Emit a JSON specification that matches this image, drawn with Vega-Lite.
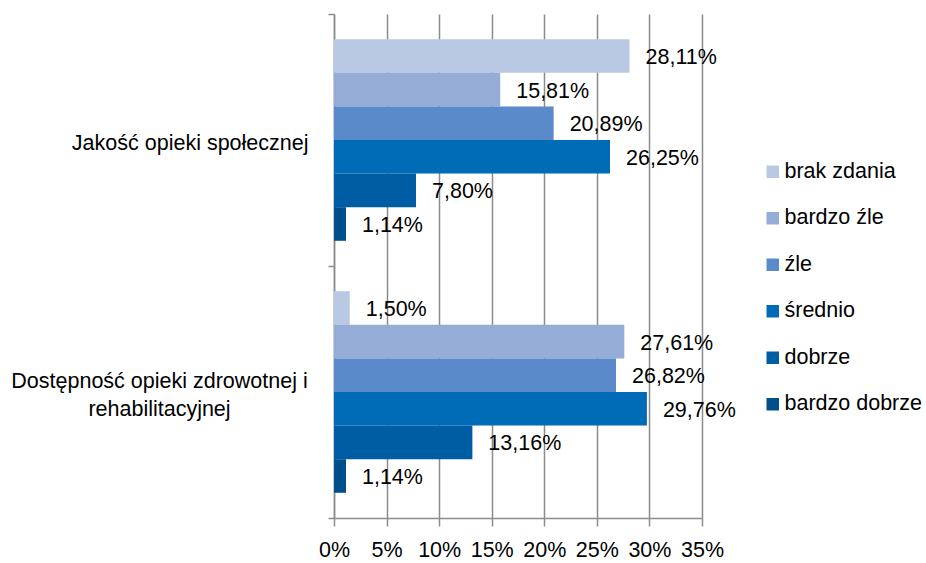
{
  "$schema": "https://vega.github.io/schema/vega-lite/v6.json",
  "width": 368,
  "height": 504,
  "autosize": {"type": "none"},
  "padding": {"left": 334, "top": 14, "right": 224, "bottom": 45},
  "background": "white",
  "config": {
    "view": {"stroke": null},
    "font": "Liberation Sans",
    "locale": {"number": {"decimal": ",", "thousands": " ", "grouping": [3], "currency": ["", " zł"]}}
  },
  "data": {
    "values": [
      {"kategoria": "Jakość opieki społecznej", "ocena": "brak zdania", "wartosc": 0.2811},
      {"kategoria": "Jakość opieki społecznej", "ocena": "bardzo źle", "wartosc": 0.1581},
      {"kategoria": "Jakość opieki społecznej", "ocena": "źle", "wartosc": 0.2089},
      {"kategoria": "Jakość opieki społecznej", "ocena": "średnio", "wartosc": 0.2625},
      {"kategoria": "Jakość opieki społecznej", "ocena": "dobrze", "wartosc": 0.078},
      {"kategoria": "Jakość opieki społecznej", "ocena": "bardzo dobrze", "wartosc": 0.0114},
      {"kategoria": "Dostępność opieki zdrowotnej i rehabilitacyjnej", "ocena": "brak zdania", "wartosc": 0.015},
      {"kategoria": "Dostępność opieki zdrowotnej i rehabilitacyjnej", "ocena": "bardzo źle", "wartosc": 0.2761},
      {"kategoria": "Dostępność opieki zdrowotnej i rehabilitacyjnej", "ocena": "źle", "wartosc": 0.2682},
      {"kategoria": "Dostępność opieki zdrowotnej i rehabilitacyjnej", "ocena": "średnio", "wartosc": 0.2976},
      {"kategoria": "Dostępność opieki zdrowotnej i rehabilitacyjnej", "ocena": "dobrze", "wartosc": 0.1316},
      {"kategoria": "Dostępność opieki zdrowotnej i rehabilitacyjnej", "ocena": "bardzo dobrze", "wartosc": 0.0114}
    ]
  },
  "encoding": {
    "y": {
      "field": "kategoria",
      "type": "nominal",
      "sort": ["Jakość opieki społecznej", "Dostępność opieki zdrowotnej i rehabilitacyjnej"],
      "scale": {"paddingInner": 0, "paddingOuter": 0},
      "axis": {
        "title": null,
        "domainColor": "#8c8c8c",
        "domainWidth": 1.5,
        "tickColor": "#8c8c8c",
        "tickWidth": 1.5,
        "tickSize": 6,
        "tickBand": "extent",
        "grid": false,
        "labelFontSize": 21.5,
        "labelColor": "#000000",
        "labelLimit": 400,
        "labelLineHeight": 28,
        "labelOffset": {"condition": {"test": "datum.value == 'Jakość opieki społecznej'", "value": 3}, "value": -11},
        "labelAlign": {"condition": {"test": "datum.value == 'Jakość opieki społecznej'", "value": "right"}, "value": "center"},
        "labelPadding": {"condition": {"test": "datum.value == 'Jakość opieki społecznej'", "value": 20}, "value": 169},
        "labelExpr": "datum.value == 'Dostępność opieki zdrowotnej i rehabilitacyjnej' ? ['Dostępność opieki zdrowotnej i', 'rehabilitacyjnej'] : datum.label"
      }
    },
    "yOffset": {
      "field": "ocena",
      "type": "nominal",
      "sort": ["brak zdania", "bardzo źle", "źle", "średnio", "dobrze", "bardzo dobrze"],
      "scale": {"paddingInner": 0, "paddingOuter": 0.75}
    },
    "x": {
      "field": "wartosc",
      "type": "quantitative",
      "scale": {"domain": [0, 0.35], "nice": false},
      "axis": {
        "title": null,
        "values": [0, 0.05, 0.1, 0.15, 0.2, 0.25, 0.3, 0.35],
        "format": ".0%",
        "grid": true,
        "gridColor": "#8c8c8c",
        "gridWidth": 1.5,
        "domainColor": "#8c8c8c",
        "domainWidth": 1.5,
        "tickColor": "#8c8c8c",
        "tickWidth": 1.5,
        "tickSize": 8,
        "labelFontSize": 21.5,
        "labelColor": "#000000",
        "labelPadding": 13,
        "labelFlush": false
      }
    }
  },
  "layer": [
    {
      "mark": {"type": "bar"},
      "encoding": {
        "color": {
          "field": "ocena",
          "type": "nominal",
          "sort": ["brak zdania", "bardzo źle", "źle", "średnio", "dobrze", "bardzo dobrze"],
          "scale": {
            "domain": ["brak zdania", "bardzo źle", "źle", "średnio", "dobrze", "bardzo dobrze"],
            "range": ["#B9C9E3", "#95ACD6", "#5B8ACA", "#006CB8", "#005DA3", "#004F8D"]
          },
          "legend": {
            "title": null,
            "orient": "none",
            "legendX": 428,
            "legendY": 147,
            "symbolType": "square",
            "symbolSize": 156,
            "symbolStrokeWidth": 0,
            "labelFontSize": 21.5,
            "labelColor": "#000000",
            "labelOffset": 1,
            "rowPadding": 23.5,
            "labelLimit": 300
          }
        }
      }
    },
    {
      "mark": {"type": "text", "align": "left", "baseline": "middle", "dx": 16, "dy": 2, "fontSize": 21.5, "color": "#000000"},
      "encoding": {
        "text": {"field": "wartosc", "type": "quantitative", "format": ".2%"}
      }
    }
  ]
}
